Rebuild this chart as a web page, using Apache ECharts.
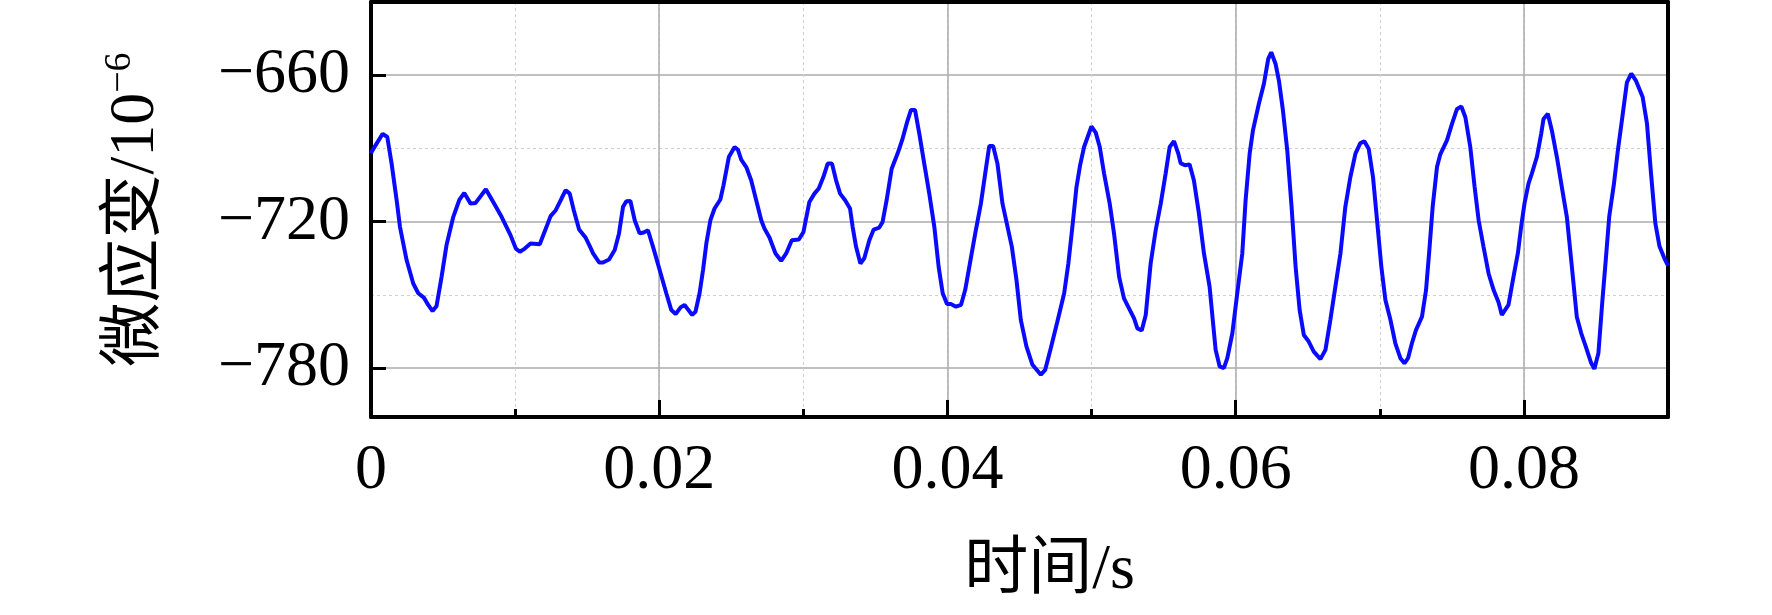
<!DOCTYPE html>
<html>
<head>
<meta charset="utf-8">
<script src="https://cdn.jsdelivr.net/npm/echarts@6/dist/echarts.min.js"></script>
<style>
html,body{margin:0;padding:0;background:#fff;}
#chart{width:1772px;height:615px;}
</style>
</head>
<body>
<div id="chart"></div>
<script>
// time in seconds
const time = [0.0000,0.00010,0.00081,0.00113,0.00143,0.00178,0.00201,0.00247,0.00293,0.00328,0.00367,0.00397,0.00427,0.00455,0.00490,0.00524,0.00571,0.00612,0.00647,0.00691,0.00726,0.00797,0.00848,0.00906,0.00968,0.01005,0.01033,0.01067,0.01107,0.01171,0.01218,0.01246,0.01282,0.01322,0.01351,0.01379,0.01407,0.01444,0.01490,0.01518,0.01541,0.01583,0.01610,0.01652,0.01691,0.01721,0.01749,0.01772,0.01800,0.01830,0.01864,0.01892,0.01922,0.01957,0.02003,0.02049,0.02084,0.02114,0.02150,0.02176,0.02200,0.02229,0.02252,0.02280,0.02304,0.02327,0.02355,0.02384,0.02424,0.02446,0.02483,0.02523,0.02546,0.02569,0.02604,0.02638,0.02673,0.02708,0.02730,0.02765,0.02807,0.02846,0.02881,0.02920,0.02969,0.03001,0.03042,0.03077,0.03107,0.03139,0.03169,0.03199,0.03227,0.03255,0.03290,0.03324,0.03342,0.03366,0.03396,0.03423,0.03458,0.03488,0.03527,0.03550,0.03578,0.03613,0.03654,0.03685,0.03720,0.03747,0.03775,0.03805,0.03839,0.03874,0.03909,0.03939,0.03967,0.03997,0.04024,0.04059,0.04094,0.04123,0.04156,0.04193,0.04232,0.04262,0.04290,0.04317,0.04347,0.04382,0.04417,0.04447,0.04479,0.04509,0.04548,0.04590,0.04648,0.04678,0.04717,0.04763,0.04810,0.04839,0.04867,0.04895,0.04920,0.04948,0.04999,0.05029,0.05057,0.05087,0.05126,0.05156,0.05191,0.05225,0.05260,0.05295,0.05318,0.05348,0.05376,0.05410,0.05445,0.05480,0.05514,0.05542,0.05572,0.05602,0.05618,0.05648,0.05680,0.05710,0.05745,0.05780,0.05819,0.05861,0.05889,0.05918,0.05942,0.05977,0.06011,0.06046,0.06069,0.06097,0.06120,0.06161,0.06196,0.06226,0.06247,0.06277,0.06300,0.06328,0.06358,0.06388,0.06416,0.06444,0.06473,0.06507,0.06542,0.06588,0.06623,0.06657,0.06692,0.06727,0.06761,0.06796,0.06831,0.06865,0.06893,0.06923,0.06953,0.06981,0.07011,0.07039,0.07074,0.07108,0.07143,0.07171,0.07196,0.07223,0.07251,0.07293,0.07321,0.07344,0.07367,0.07397,0.07420,0.07466,0.07501,0.07536,0.07566,0.07594,0.07628,0.07658,0.07686,0.07720,0.07755,0.07790,0.07824,0.07847,0.07893,0.07928,0.07958,0.07981,0.08004,0.08032,0.08055,0.08090,0.08120,0.08136,0.08166,0.08194,0.08229,0.08263,0.08298,0.08333,0.08367,0.08398,0.08429,0.08467,0.08489,0.08517,0.08545,0.08568,0.08592,0.08625,0.08652,0.08680,0.08715,0.08745,0.08777,0.08824,0.08854,0.08884,0.08912,0.08941,0.08974,0.09000];
const strain = [-692,-690.8,-684,-685.3,-696.2,-711.2,-722.1,-735.7,-745.3,-749.3,-751.1,-754.1,-756.6,-754.5,-742.5,-729.6,-718,-711.2,-708.2,-712.6,-712.3,-706.7,-711.9,-718,-725.5,-731,-732.3,-731,-728.9,-729.2,-722.1,-717.7,-715.3,-710.5,-707.1,-708.5,-715.3,-723.2,-726.6,-730,-733,-736.7,-736.7,-735.5,-731.6,-724.8,-713.9,-711.6,-711.5,-719.4,-724.8,-724.4,-723.5,-730.3,-739.8,-749.3,-756.2,-757.8,-755.0,-754.1,-756.0,-758.2,-756.8,-749.3,-739.8,-728.9,-719.4,-714.6,-710.9,-705.1,-693.5,-689.4,-690.5,-694.6,-697.6,-703,-711.2,-719.4,-722.8,-726.5,-733,-736,-733,-727.6,-727.3,-724.2,-711.9,-708.5,-706.4,-701.7,-696.2,-696.2,-703,-708.5,-711.2,-714.6,-722.1,-730.3,-737.1,-735,-727.6,-723.2,-722.4,-720.1,-711.2,-698.3,-692.1,-686.7,-679.2,-674.2,-674.2,-684,-696.2,-708.5,-722.1,-738.5,-749.3,-753.7,-753.7,-754.8,-754.1,-748,-737.1,-724.8,-712.6,-700.3,-689,-689,-696.2,-712.6,-722.1,-730.3,-743.9,-760.2,-771.1,-778.6,-782.7,-780.7,-771.8,-760.9,-749.3,-737.1,-722.1,-706,-697,-689.4,-681,-683.5,-689.4,-700.3,-712.6,-724.8,-742.5,-751.4,-755.5,-759.6,-763.7,-764.6,-758.2,-737.1,-723.5,-712.6,-700.3,-689.4,-687,-692.1,-696,-696.9,-696.5,-703,-716.6,-733,-746.6,-772.5,-779.3,-780,-775.9,-765.7,-749.3,-733,-711.2,-692.1,-682.6,-671.7,-663.5,-653.3,-650.6,-655.4,-662.2,-674.4,-690.8,-713.9,-738.5,-756.2,-766.4,-769.1,-773.2,-776.3,-772.5,-760.2,-746.6,-733,-713.9,-701.7,-692.1,-687.8,-687.1,-690.1,-701.7,-719.4,-738.5,-752.1,-760.2,-769.8,-775.9,-778,-775.9,-769.8,-764.4,-758.9,-748,-731.6,-713.9,-697.6,-692.4,-686.7,-679.9,-673.8,-672.8,-677.2,-689.4,-705.7,-719.4,-730.3,-741.2,-748,-753,-758.2,-754.1,-742.5,-733,-722.1,-712.6,-704.4,-700.3,-693.5,-684,-677.9,-675.8,-682.6,-693.5,-705.7,-718,-738.5,-758.9,-765.7,-771.1,-777.9,-780.3,-773.9,-752.1,-735.8,-718,-704.4,-690.8,-678.5,-662.9,-659.3,-662.2,-668.9,-679.7,-701.5,-720.6,-730.1,-734.9,-738];
const yMajorTicks = [-780, -720, -660];
const yMinorGrid = [-750, -690];
const xTitle = '时间/s';
const yTitleMain = '微应变/10';
const yTitleSup = '\u22126';

const seriesData = time.map((t, i) => [t, strain[i]]);
const FONT = '"Liberation Serif", "Times New Roman", "Noto Sans CJK SC", serif';

const chart = echarts.init(document.getElementById('chart'), null, {renderer: 'canvas'});
const frameLine = {show: true, onZero: false, lineStyle: {color: '#000', width: 4}};
chart.setOption({
  animation: false,
  backgroundColor: '#fff',
  grid: {left: 371, right: 104, top: 2, bottom: 198, containLabel: false, outerBoundsMode: 'none'},
  xAxis: [
    {
      type: 'value', position: 'bottom', min: 0, max: 0.09, interval: 0.01,
      axisLine: frameLine,
      axisTick: {show: true, inside: true, length: 8, lineStyle: {color: '#000', width: 3}},
      axisLabel: {
        margin: 22, color: '#000', fontSize: 64, fontFamily: FONT,
        formatter: function (v) {
          const k = Math.round(v * 100);
          if (k % 2 !== 0) return '';
          return k === 0 ? '0' : (k / 100).toFixed(2);
        }
      },
      splitLine: {show: true, showMinLine: false, showMaxLine: false, lineStyle: {color: '#cfcfcf', width: 1, type: [3, 3]}},
      name: xTitle, nameLocation: 'middle', nameGap: 122,
      nameTextStyle: {color: '#000', fontSize: 64, fontFamily: FONT, padding: [0, 0, 0, 60]}
    },
    {
      type: 'value', position: 'bottom', min: 0, max: 0.09, interval: 0.02,
      axisLine: {show: false, onZero: false},
      axisTick: {show: true, inside: true, length: 17, lineStyle: {color: '#000', width: 3}},
      axisLabel: {show: false},
      splitLine: {show: true, showMinLine: false, showMaxLine: false, lineStyle: {color: '#ababab', width: 1.5, type: 'solid'}}
    },
    {
      type: 'value', position: 'top', min: 0, max: 0.09,
      axisLine: frameLine, axisTick: {show: false}, axisLabel: {show: false}, splitLine: {show: false}
    }
  ],
  yAxis: [
    {
      type: 'value', position: 'left', min: -800, max: -630,
      axisLine: frameLine,
      axisTick: {show: true, inside: true, length: 15, customValues: yMajorTicks, lineStyle: {color: '#000', width: 3}},
      axisLabel: {
        customValues: yMajorTicks, margin: 21, color: '#000', fontSize: 64, fontFamily: FONT,
        formatter: function (v) { return (v < 0 ? '\u2212' : '') + Math.abs(v); }
      },
      splitLine: {show: true, lineStyle: {color: '#ababab', width: 1.5, type: 'solid'}},
      name: '{m|' + yTitleMain + '}{s|' + yTitleSup + '}',
      nameLocation: 'middle', nameGap: 200,
      nameTextStyle: {
        color: '#000', fontFamily: FONT,
        rich: {
          m: {fontSize: 64, fontFamily: FONT, color: '#000', lineHeight: 70},
          s: {fontSize: 38, fontFamily: FONT, color: '#000', verticalAlign: 'top'}
        }
      }
    },
    {
      type: 'value', position: 'right', min: -800, max: -630,
      axisLine: frameLine,
      axisTick: {show: false, customValues: yMinorGrid},
      axisLabel: {show: false},
      splitLine: {show: true, lineStyle: {color: '#cfcfcf', width: 1, type: [3, 3]}}
    }
  ],
  series: [{
    type: 'line', xAxisIndex: 0, yAxisIndex: 0,
    data: seriesData, showSymbol: false, smooth: false, clip: true, z: 10,
    lineStyle: {color: '#0a0aff', width: 4}
  }]
});
</script>
</body>
</html>
